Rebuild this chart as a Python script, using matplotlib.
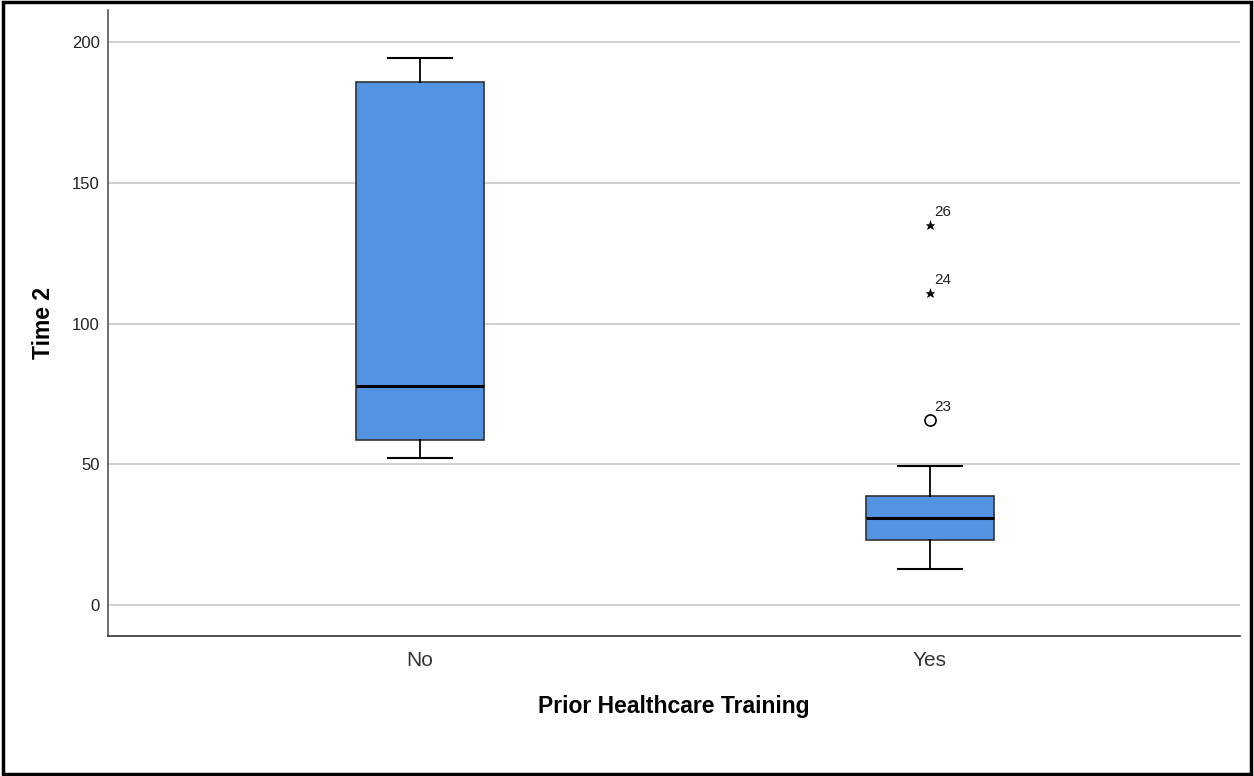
import matplotlib
matplotlib.use('Agg')
import matplotlib.pyplot as plt
from matplotlib.patches import Rectangle

plt.rcParams['font.family'] = ['Liberation Sans', 'DejaVu Sans']

# Five-number summaries of Time 2 by group
groups = ['No', 'Yes']
whisker_low = [52.3, 12.8]
q1 = [58.7, 23.1]
median = [77.9, 31.0]
q3 = [185.8, 38.8]
whisker_high = [194.3, 49.5]

# Outlying cases for the "Yes" group: (value, case id, kind)
outlier_values = [65.8, 111.0, 135.2]
outlier_ids = ['23', '24', '26']
outlier_kinds = ['mild', 'extreme', 'extreme']

box_color = '#5294e2'

fig = plt.figure(figsize=(12.54, 7.76), dpi=100)
ax = fig.add_axes([0.0861, 0.1804, 0.9027, 0.8066])

stats = []
for i, g in enumerate(groups):
    stats.append({'label': g, 'whislo': whisker_low[i], 'q1': q1[i], 'med': median[i],
                  'q3': q3[i], 'whishi': whisker_high[i], 'fliers': []})

positions = [1, 2]
ax.bxp(stats, positions=positions, widths=0.25, patch_artist=True, showfliers=False,
       boxprops=dict(facecolor=box_color, edgecolor='#333333', linewidth=1.2),
       medianprops=dict(color='black', linewidth=2.2),
       whiskerprops=dict(color='black', linewidth=1.3),
       capprops=dict(color='black', linewidth=1.5),
       capwidths=0.125, zorder=3)

# outliers belong to the second group
for v, cid, kind in zip(outlier_values, outlier_ids, outlier_kinds):
    if kind == 'mild':
        ax.plot(positions[1], v, marker='o', markersize=8, markerfacecolor='none',
                markeredgecolor='black', markeredgewidth=1.2, zorder=4)
    else:
        ax.plot(positions[1], v, marker='*', markersize=6.5, color='black',
                markeredgewidth=0.4, zorder=4)
    ax.annotate(cid, (positions[1], v), xytext=(3, 4), textcoords='offset points',
                fontsize=11, color='#222222', ha='left', va='bottom')

ax.set_xlim(0.388, 2.608)
ax.set_ylim(-11, 211.5)
ax.set_yticks([0, 50, 100, 150, 200])
ax.set_xticks(positions)
ax.set_xticklabels(groups)

ax.grid(axis='y', color='#c8c8c8', linewidth=1.2, zorder=0)
ax.set_axisbelow(True)
for s in ['top', 'right']:
    ax.spines[s].set_visible(False)
ax.spines['left'].set_color('#555555')
ax.spines['bottom'].set_color('#333333')
ax.spines['left'].set_linewidth(1.2)
ax.spines['bottom'].set_linewidth(1.2)
ax.tick_params(axis='y', length=0, labelsize=12, pad=6, labelcolor='#222222')
ax.tick_params(axis='x', length=0, labelsize=15, pad=11, labelcolor='#333333')

ax.set_ylabel('Time 2', fontsize=16.5, fontweight='bold', labelpad=12)
ax.set_xlabel('Prior Healthcare Training', fontsize=16.5, fontweight='bold', labelpad=18)

# black frame around the whole figure
fig.patches.append(Rectangle((0.002, 0.002), 0.996, 0.996, transform=fig.transFigure,
                             fill=False, edgecolor='black', linewidth=2.5))

fig.savefig('out.png', dpi=100)
